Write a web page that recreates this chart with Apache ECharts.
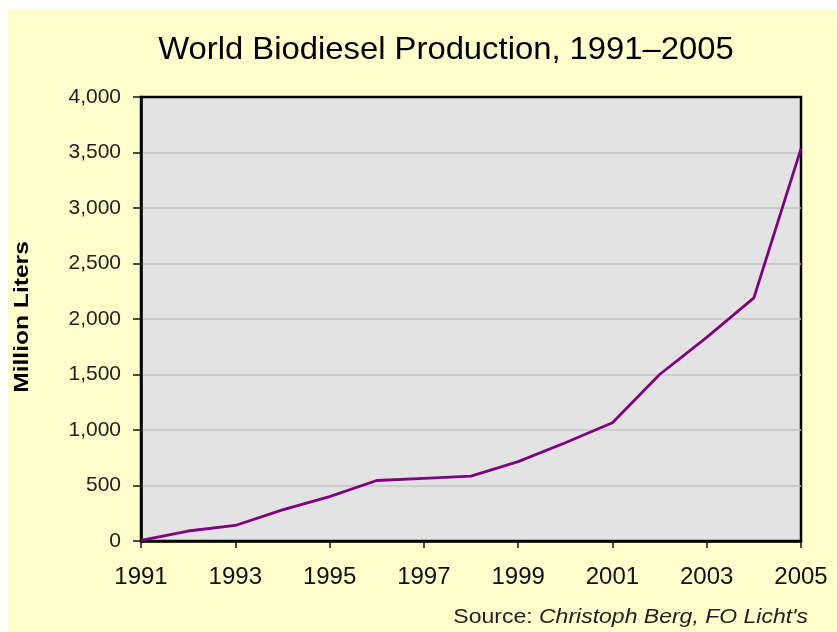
<!DOCTYPE html>
<html>
<head>
<meta charset="utf-8">
<script src="https://cdn.jsdelivr.net/npm/echarts@6/dist/echarts.min.js"></script>
<style>
html,body{margin:0;padding:0;background:#fff;}
#chart{width:837px;height:632px;}
</style>
</head>
<body>
<div id="chart"></div>
<script>
const years = ['1991','1992','1993','1994','1995','1996','1997','1998','1999','2000','2001','2002','2003','2004','2005'];
const production = [5, 90, 140, 280, 400, 545, 565, 585, 715, 885, 1065, 1500, 1835, 2190, 3535];
const yTicks = { min: 0, max: 4000, interval: 500 };
const titleText = 'World Biodiesel Production, 1991–2005';
const yName = 'Million Liters';
const sourceLabel = 'Source: ';
const sourceName = "Christoph Berg, FO Licht's";

const chart = echarts.init(document.getElementById('chart'), null, {renderer: 'canvas'});
const font = 'Liberation Sans, Arial, sans-serif';
chart.setOption({
  animation: false,
  backgroundColor: 'transparent',
  graphic: [
    { type: 'rect', z: -10, shape: { x: 8, y: 9, width: 829, height: 623 }, style: { fill: '#FFFFCC' } },
    { type: 'text', x: 446, y: 50, scaleX: 1.025, style: { text: titleText, font: '32px ' + font, fill: '#000', align: 'center', verticalAlign: 'middle' } },
    { type: 'text', x: 22, y: 317, rotation: Math.PI / 2, scaleX: 1.23, style: { text: yName, font: 'bold 20px ' + font, fill: '#000', align: 'center', verticalAlign: 'middle' } },
    { type: 'text', x: 808, y: 617, scaleX: 1.15, style: {
        text: '{a|' + sourceLabel + '}{b|' + sourceName + '}', align: 'right', verticalAlign: 'middle',
        rich: { a: { font: '20px ' + font, fill: '#222' }, b: { font: 'italic 20px ' + font, fill: '#222' } }
    } }
  ],
  grid: { left: 141, right: 36, top: 97, bottom: 91, show: true, backgroundColor: '#E3E3E3', borderColor: '#000', borderWidth: 2.5 },
  xAxis: {
    type: 'category', data: years, boundaryGap: false,
    axisLine: { lineStyle: { color: '#000', width: 2.5 } },
    axisTick: { show: true, interval: 1, length: 7, lineStyle: { color: '#111', width: 1.5 } },
    axisLabel: { interval: 1, margin: 24, fontSize: 24, fontFamily: font, color: '#111' },
    splitLine: { show: false }
  },
  yAxis: {
    type: 'value', min: yTicks.min, max: yTicks.max, interval: yTicks.interval,
    axisLine: { show: true, lineStyle: { color: '#000', width: 2.5 } },
    axisTick: { show: true, length: 8, lineStyle: { color: '#111', width: 1.5 } },
    axisLabel: { margin: 20, fontSize: 21, fontFamily: font, color: '#222', formatter: v => v.toLocaleString('en-US') },
    splitLine: { show: true, showMinLine: false, showMaxLine: false, lineStyle: { color: '#C6C6C6', width: 1.5 } }
  },
  series: [{
    type: 'line', data: production, showSymbol: false, symbol: 'none',
    lineStyle: { color: '#800080', width: 2.8 }, z: 5
  }]
});
</script>
</body>
</html>
